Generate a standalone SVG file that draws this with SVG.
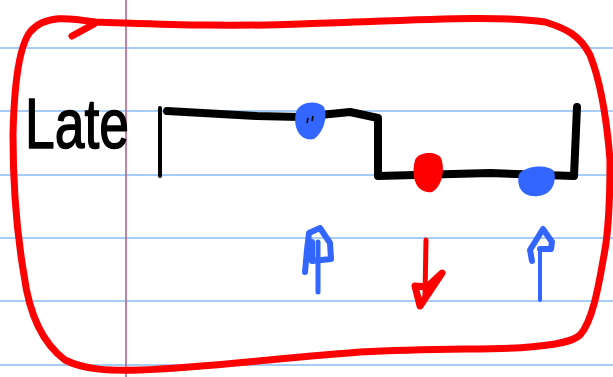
<svg xmlns="http://www.w3.org/2000/svg" width="613" height="377" viewBox="0 0 613 377">
  <style>
    .rule { stroke: #a7cdf6; stroke-width: 2; }
    .margin { stroke: #b8628a; stroke-width: 1.6; }
    .ink { fill: none; stroke: #000; stroke-linecap: round; stroke-linejoin: round; }
    .red { fill: none; stroke: #ff0000; stroke-linecap: round; stroke-linejoin: round; }
    .blue { fill: none; stroke: #3366ff; stroke-linecap: round; stroke-linejoin: round; }
  </style>

  <!-- lined paper -->
  <rect width="613" height="377" fill="#ffffff"/>
  <g id="paper">
    <line class="rule" x1="0" y1="48" x2="613" y2="48"/>
    <line class="rule" x1="0" y1="111" x2="613" y2="111"/>
    <line class="rule" x1="0" y1="175" x2="613" y2="175"/>
    <line class="rule" x1="0" y1="238" x2="613" y2="238"/>
    <line class="rule" x1="0" y1="301" x2="613" y2="301"/>
    <line class="rule" x1="0" y1="365" x2="613" y2="365"/>
    <line class="margin" x1="126" y1="0" x2="126" y2="377"/>
  </g>

  <!-- red outline around everything -->
  <g id="frame">
    <path class="red" stroke-width="7" d="M95,22 C70,18 45,14 30,32 C18,48 14,90 13,135 C13,200 18,240 24,275 C30,320 45,345 65,360 C85,370 110,371 140,370 C200,368 280,358 360,352 C440,348 500,350 530,347 C555,345 572,342 580,335 C592,322 598,290 604,255 C609,230 610,190 610,160 C606,110 600,80 590,55 C580,35 565,28 545,22 C500,15 420,20 300,24 C220,27 160,24 95,22 Z"/>
    <path class="red" stroke-width="7" d="M94,24 L72,36"/>
  </g>

  <!-- label -->
  <g id="label">
    <text x="25" y="148" font-family="Liberation Sans, Arial, sans-serif" font-size="70" fill="#000" stroke="#000" stroke-width="1.5" stroke-linejoin="round" textLength="104" lengthAdjust="spacingAndGlyphs">Late</text>
  </g>

  <!-- waveform -->
  <g id="waveform">
    <line class="ink" stroke-width="4" x1="160" y1="108" x2="160" y2="176"/>
    <path class="ink" stroke-width="8" d="M167,111 L257,116 L300,117 L350,112 L378,118 L378,176 L490,173 L574,176 L577,107"/>
  </g>

  <!-- markers on the waveform -->
  <g id="dots">
    <path d="M296,112 C300,101 318,100 324,107 C328,116 324,132 314,139 C302,142 292,130 296,112 Z" fill="#3366ff"/>
    <path d="M308,118 l-1,5 M313,116 l-1,5" stroke="#000" stroke-width="1.6"/>
    <path d="M415,160 C418,152 436,150 441,158 C445,168 443,186 432,192 C418,194 410,180 415,160 Z" fill="#ff0000"/>
    <path d="M519,174 C526,165 548,164 554,171 C557,182 552,195 538,196 C522,198 516,186 519,174 Z" fill="#3366ff"/>
  </g>

  <!-- transition arrows -->
  <g id="arrows">
    <path class="blue" stroke-width="5" d="M318,242 L318,292"/>
    <path class="blue" stroke-width="6" d="M305,272 L307,250 L309,233 L320,228 L330,243 L331,259 L312,261 L312,242"/>
    <path class="red" stroke-width="5" d="M426,240 L425,297"/>
    <path class="red" stroke-width="7" fill="#ff0000" d="M415,286 L420,306 L442,273 L427,287 Z"/>
    <path class="blue" stroke-width="4" d="M540,250 L540,300"/>
    <path class="blue" stroke-width="6" d="M532,261 L530,250 L543,229 L552,242 L551,249 L540,249"/>
  </g>
</svg>
